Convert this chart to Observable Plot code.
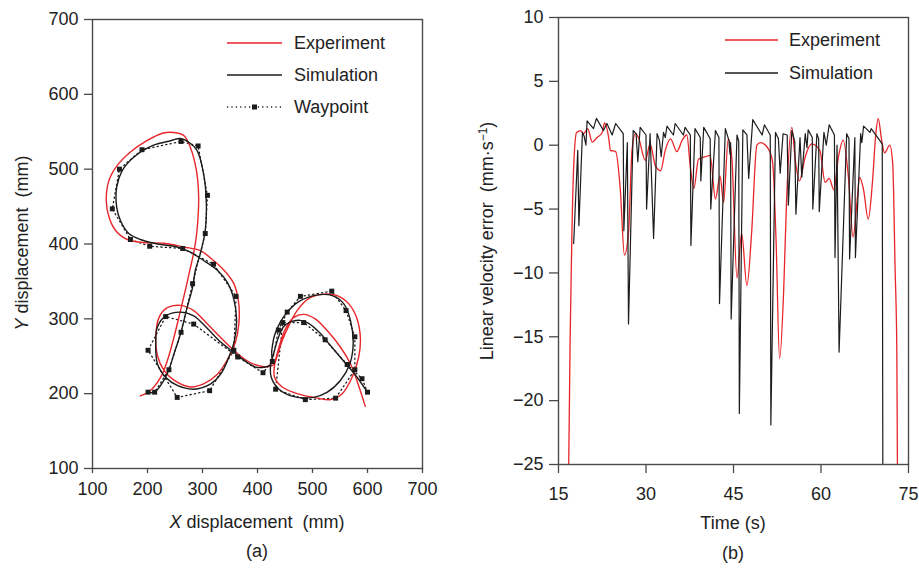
<!DOCTYPE html>
<html>
<head>
<meta charset="utf-8">
<script src="https://cdn.jsdelivr.net/npm/d3@7"></script>
<script src="https://cdn.jsdelivr.net/npm/@observablehq/plot@0.6"></script>
<style>
  html, body { margin: 0; padding: 0; background: #fff; }
  #wrap { position: relative; width: 919px; height: 570px; overflow: hidden;
          font-family: "Liberation Sans", Arial, sans-serif; color: #222; }
  .abs { position: absolute; white-space: pre; font-size: 18px; line-height: 1; }
  .rot { transform: translate(-50%, -50%) rotate(-90deg); }
  .ctr { transform: translate(-50%, -50%); }
  #left, #right { position: absolute; top: 0; }
  #left { left: 0; }
  #right { left: 460px; }
  #legend { position: absolute; left: 0; top: 0; }
</style>
</head>
<body>
<div id="wrap">
  <div id="left"></div>
  <div id="right"></div>
  <div class="abs rot" style="left:22px; top:243px;"><i>Y</i> displacement  (mm)</div>
  <div class="abs ctr" style="left:257px; top:522px;"><i>X</i> displacement  (mm)</div>
  <div class="abs ctr" style="left:257px; top:551px;">(a)</div>
  <div class="abs rot" style="left:486px; top:241px;">Linear velocity error  (mm·s<sup style="font-size:12px; vertical-align: 6px;">−1</sup>)</div>
  <div class="abs ctr" style="left:733px; top:523px;">Time (s)</div>
  <div class="abs ctr" style="left:733px; top:553px;">(b)</div>
  <svg id="legend" width="919" height="570"></svg>
</div>
<script>
// ---------------- Panel (a): trajectories (mm) ----------------
const xTicksA = [100, 200, 300, 400, 500, 600, 700];
const yTicksA = [100, 200, 300, 400, 500, 600, 700];

const waypointX = [201, 213, 239, 261, 282, 305, 309, 292, 261, 190, 149, 136, 169, 204, 264, 320, 361, 357, 313, 254, 201, 233, 284, 364, 410, 427, 438, 454, 478, 535, 561, 577, 577, 542, 487, 433, 446, 484, 523, 563, 590, 600];
const waypointY = [202, 202, 232, 282, 347, 414, 465, 531, 537, 526, 500, 447, 406, 397, 394, 373, 330, 258, 204, 195, 258, 303, 293, 249, 228, 243, 285, 309, 330, 337, 311, 276, 232, 194, 192, 206, 295, 295, 272, 239, 220, 202];

const simX = [201, 213, 230, 239, 248, 260, 272, 282, 287, 296, 305, 307, 302, 290, 275, 260, 242, 211, 175, 154, 144, 144, 151, 166, 187, 218, 254, 278, 302, 327, 345, 357, 362, 358, 348, 333, 315, 284, 254, 233, 218, 215, 218, 233, 260, 284, 309, 333, 357, 381, 399, 424, 426, 431, 441, 454, 475, 509, 536, 557, 569, 574, 568, 551, 527, 502, 466, 439, 425, 424, 430, 437, 447, 460, 478, 493, 515, 533, 563, 581, 599];
const simY = [202, 202, 218, 232, 253, 280, 315, 342, 365, 387, 418, 454, 494, 525, 536, 541, 538, 532, 516, 498, 476, 449, 431, 414, 406, 400, 396, 389, 378, 365, 349, 326, 298, 271, 249, 226, 213, 206, 211, 222, 240, 267, 289, 304, 309, 304, 287, 269, 255, 242, 235, 239, 258, 278, 295, 309, 323, 332, 331, 320, 298, 267, 240, 218, 202, 195, 196, 206, 222, 239, 255, 273, 289, 296, 298, 294, 280, 264, 238, 222, 203];

const expX = [187, 205, 224, 236, 248, 260, 270, 277, 285, 290, 293, 289, 278, 266, 248, 227, 199, 169, 145, 130, 125, 130, 142, 163, 193, 230, 266, 296, 320, 339, 357, 366, 366, 360, 348, 327, 302, 278, 248, 230, 218, 215, 221, 236, 260, 284, 309, 333, 357, 381, 399, 418, 430, 436, 445, 457, 472, 493, 521, 545, 566, 580, 587, 584, 572, 554, 533, 509, 472, 445, 431, 431, 439, 451, 466, 484, 505, 527, 551, 569, 581, 590, 596];
const expY = [197, 204, 222, 244, 275, 311, 342, 365, 392, 418, 463, 498, 529, 545, 549, 548, 538, 523, 505, 485, 458, 436, 418, 406, 402, 401, 396, 391, 378, 365, 347, 320, 293, 269, 249, 226, 213, 209, 218, 231, 251, 275, 302, 315, 318, 311, 293, 275, 258, 244, 238, 236, 239, 251, 271, 291, 311, 327, 333, 331, 320, 302, 275, 249, 222, 200, 192, 194, 200, 209, 222, 238, 262, 287, 302, 306, 300, 284, 262, 240, 217, 197, 183];

// ---------------- Panel (b): linear velocity error ----------------
const xTicksB = [15, 30, 45, 60, 75];
const yTicksB = [10, 5, 0, -5, -10, -15, -20, -25];

const expT = [16.75, 17.0, 17.3, 17.6, 18.1, 18.8, 19.3, 20.0, 20.8, 21.6, 22.5, 22.9, 23.6, 23.9, 24.8, 25.6, 26.3, 27.0, 27.6, 28.2, 28.7, 29.9, 30.7, 31.6, 32.5, 33.3, 34.2, 35.3, 36.2, 37.0, 37.6, 38.2, 39.0, 40.2, 41.0, 41.9, 42.7, 43.3, 44.1, 44.7, 45.6, 46.4, 47.3, 48.1, 49.0, 49.6, 51.0, 51.7, 52.3, 52.9, 53.6, 54.1, 55.0, 55.6, 56.3, 57.3, 58.4, 59.8, 60.7, 61.4, 62.2, 63.0, 63.8, 64.7, 65.5, 66.2, 66.6, 67.3, 68.1, 68.8, 69.4, 69.8, 70.4, 70.9, 71.8, 72.3, 72.7, 73.0, 73.1];
const expV = [-25, -15, -6.9, -1.7, 1.0, 1.15, 0.9, 1.3, 0.24, 0.6, 1.0, 1.75, 0.6, -0.4, -0.5, -3.5, -8.6, -6.9, -0.4, 0.9, 0.6, -1.2, 0.1, -1.6, -2.0, -0.4, 0.5, -0.5, 0.4, 0.8, -1.7, -3.4, -1.1, -0.9, -0.8, -4.2, -2.4, -4.5, 0.5, -0.9, -10.4, -6.9, -11.0, -6.9, 0.0, 0.2, -0.3, -1.3, -7.5, -16.7, -11.4, -4.3, 1.4, -1.2, -2.8, -0.9, 0.1, -0.4, -2.9, -2.6, -3.5, -0.9, 0.4, -2.5, -7.2, -4.3, -2.5, -3.5, -5.8, -3.0, 0.9, 2.1, 0.4, -0.6, 0.0, -1.5, -9.6, -16.1, -25];

const simT = [17.6, 18.3, 18.5, 19.1, 19.4, 19.7, 19.9, 21.0, 21.5, 22.7, 23.3, 24.2, 24.8, 26.1, 26.2, 26.8, 27.0, 27.8, 28.3, 28.6, 29.0, 30.0, 30.1, 30.7, 31.3, 31.9, 32.3, 32.6, 33.0, 33.3, 33.6, 34.7, 35.0, 36.4, 36.7, 37.6, 37.7, 38.4, 39.3, 39.4, 39.9, 41.0, 41.1, 41.9, 42.5, 42.6, 43.6, 44.2, 44.4, 44.5, 44.6, 45.6, 45.9, 46.0, 46.6, 47.3, 47.6, 48.3, 49.9, 50.3, 51.3, 51.4, 52.2, 52.7, 53.0, 53.5, 54.2, 54.4, 55.0, 55.5, 55.7, 56.4, 56.7, 57.3, 57.6, 57.8, 58.5, 58.6, 59.3, 59.6, 59.7, 60.5, 60.9, 61.4, 62.3, 62.4, 62.75, 63.1, 64.4, 64.8, 64.9, 65.8, 65.9, 66.8, 67.0, 67.3, 68.4, 68.6, 70.5, 70.6];
const simV = [-7.7, -0.4, -6.3, 1.0, 0.7, 0.0, 1.9, 1.3, 2.1, 1.15, 1.7, 0.8, 1.7, 0.9, -6.7, 0.2, -14.0, 1.15, 0.9, -1.3, 1.4, 0.8, -5.0, 0.9, -7.3, 0.9, 0.4, -0.9, 1.0, 0.6, 1.5, 0.8, 1.7, 0.8, 1.4, 0.8, -7.85, 1.3, 0.6, -2.8, 1.4, 0.5, -5.0, 1.15, 0.6, -12.4, 1.3, 0.4, -0.7, 0.2, -13.6, 0.8, 0.3, -21.0, 1.2, 0.8, -2.6, 2.0, 0.8, 1.6, 0.8, -21.9, 1.0, 0.5, -2.2, 0.9, 0.8, -4.7, 1.15, 0.3, -5.4, 0.6, -2.5, 0.9, -0.2, 1.2, 0.6, -5.0, 0.9, 0.5, -5.2, 1.0, 0.0, 1.6, 0.8, -8.8, 0.0, -16.2, 0.9, 0.5, -8.9, 0.6, -8.8, 0.9, 0.2, 1.5, 1.0, 1.3, 0.1, -25];

// ---------------- build tables ----------------
const wp = waypointX.map((x, i) => ({x, y: waypointY[i]}));
const sim = simX.map((x, i) => ({x, y: simY[i]}));
const exp = expX.map((x, i) => ({x, y: expY[i]}));
const expB = expT.map((t, i) => ({t, v: expV[i]}));
const simB = simT.map((t, i) => ({t, v: simV[i]}));

const RED = "#e8262a";
const BLK = "#1c1c1c";
const AX = "#4a4a4a";
const FONT = "'Liberation Sans', Arial, sans-serif";
const fmt = d => d < 0 ? "\u2212" + Math.abs(d) : String(d);

const plotA = Plot.plot({
  width: 460, height: 520,
  marginLeft: 92, marginRight: 38, marginTop: 19, marginBottom: 52,
  style: {fontSize: "18px", fontFamily: FONT, color: "#222", background: "transparent"},
  x: {domain: [100, 700], label: null},
  y: {domain: [100, 700], label: null},
  marks: [
    Plot.axisX({ticks: xTicksA, tickSize: 5, tickPadding: 9, stroke: AX, strokeWidth: 1.3, label: null, tickFormat: fmt}),
    Plot.axisY({ticks: yTicksA, tickSize: 8, tickPadding: 6, stroke: AX, strokeWidth: 1.3, label: null, tickFormat: fmt}),
    Plot.frame({stroke: AX, strokeWidth: 1.4}),
    Plot.line(wp, {x: "x", y: "y", stroke: BLK, strokeWidth: 1.3, strokeDasharray: "1.2,3.2"}),
    Plot.line(exp, {x: "x", y: "y", stroke: RED, strokeWidth: 1.4, curve: "catmull-rom"}),
    Plot.line(sim, {x: "x", y: "y", stroke: BLK, strokeWidth: 1.4, curve: "catmull-rom"}),
    Plot.dot(wp, {x: "x", y: "y", symbol: "square", r: 2.8, fill: BLK, stroke: "none"})
  ]
});
document.getElementById("left").appendChild(plotA);

const plotB = Plot.plot({
  width: 459, height: 520,
  marginLeft: 98, marginRight: 11, marginTop: 17, marginBottom: 56,
  style: {fontSize: "18px", fontFamily: FONT, color: "#222", background: "transparent"},
  x: {domain: [15, 75], label: null},
  y: {domain: [-25, 10], label: null},
  marks: [
    Plot.axisX({ticks: xTicksB, tickSize: 9, tickPadding: 14, stroke: AX, strokeWidth: 1.3, label: null, tickFormat: fmt}),
    Plot.axisY({ticks: yTicksB, tickSize: 9, tickPadding: 6, stroke: AX, strokeWidth: 1.3, label: null, tickFormat: fmt}),
    Plot.line(expB, {x: "t", y: "v", stroke: RED, strokeWidth: 1.3, curve: "monotone-x", clip: true}),
    Plot.line(simB, {x: "t", y: "v", stroke: BLK, strokeWidth: 1.2, clip: true}),
    Plot.frame({stroke: AX, strokeWidth: 1.4})
  ]
});
document.getElementById("right").appendChild(plotB);

// ---------------- legends ----------------
const legendItems = [
  {x0: 227, x1: 282, tx: 294, y: 43, label: "Experiment", color: RED, dash: null, marker: false},
  {x0: 227, x1: 282, tx: 294, y: 75, label: "Simulation", color: BLK, dash: null, marker: false},
  {x0: 227, x1: 282, tx: 294, y: 107, label: "Waypoint", color: BLK, dash: "1.2,3.2", marker: true},
  {x0: 725, x1: 778, tx: 789, y: 40, label: "Experiment", color: RED, dash: null, marker: false},
  {x0: 725, x1: 778, tx: 789, y: 73, label: "Simulation", color: BLK, dash: null, marker: false}
];
const lg = d3.select("#legend");
for (const it of legendItems) {
  lg.append("line").attr("x1", it.x0).attr("x2", it.x1).attr("y1", it.y).attr("y2", it.y)
    .attr("stroke", it.color).attr("stroke-width", 1.4)
    .attr("stroke-dasharray", it.dash);
  if (it.marker) {
    const cx = (it.x0 + it.x1) / 2;
    lg.append("rect").attr("x", cx - 2.5).attr("y", it.y - 2.5).attr("width", 5).attr("height", 5).attr("fill", BLK);
  }
  lg.append("text").attr("x", it.tx).attr("y", it.y).attr("dy", "0.35em")
    .attr("font-family", FONT).attr("font-size", 18).attr("fill", "#222").text(it.label);
}
</script>
</body>
</html>
